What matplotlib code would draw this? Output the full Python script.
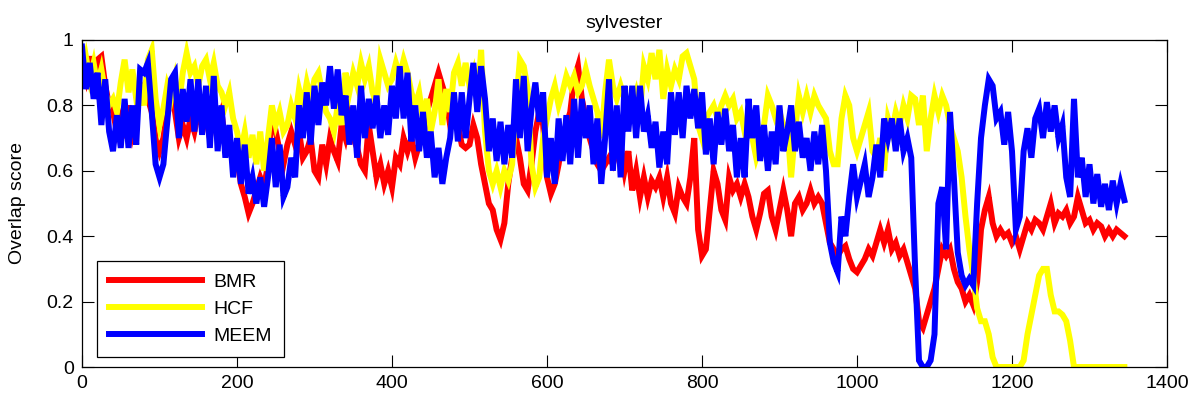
import numpy as np
import matplotlib
matplotlib.use("Agg")
import matplotlib.pyplot as plt

plt.rcParams['font.family'] = ['Liberation Sans', 'DejaVu Sans']

# frame index (sampled every 5 frames)
frames = np.arange(0, 1346, 5)

bmr = [0.92, 0.88, 0.95, 0.88, 0.94, 0.95, 0.86, 0.80, 0.78, 0.72, 0.76, 0.70, 0.80, 0.72, 0.78, 0.84, 0.86, 0.82, 0.78, 0.70, 0.66, 0.70, 0.78, 0.82, 0.78, 0.70, 0.74,
       0.70, 0.76, 0.72, 0.78, 0.74, 0.76, 0.70, 0.80, 0.74, 0.78, 0.68, 0.70, 0.62, 0.64, 0.56, 0.52, 0.47, 0.50, 0.54, 0.58, 0.55, 0.62, 0.78, 0.72, 0.66, 0.62,
       0.68, 0.72, 0.68, 0.72, 0.64, 0.66, 0.70, 0.60, 0.58, 0.68, 0.62, 0.70, 0.66, 0.63, 0.74, 0.70, 0.76, 0.70, 0.67, 0.62, 0.60, 0.74, 0.66, 0.58, 0.62,
       0.56, 0.60, 0.55, 0.64, 0.62, 0.70, 0.66, 0.70, 0.64, 0.68, 0.70, 0.78, 0.82, 0.86, 0.90, 0.86, 0.82, 0.74, 0.78, 0.74, 0.68, 0.67, 0.68, 0.74, 0.70, 0.62,
       0.56, 0.50, 0.48, 0.42, 0.39, 0.44, 0.56, 0.64, 0.70, 0.64, 0.56, 0.54, 0.62, 0.72, 0.78, 0.74, 0.58, 0.53, 0.56, 0.62, 0.70, 0.74, 0.78, 0.88, 0.92, 0.82,
       0.76, 0.70, 0.66, 0.62, 0.60, 0.62, 0.64, 0.62, 0.66, 0.68, 0.60, 0.66, 0.54, 0.60, 0.52, 0.58, 0.52, 0.57, 0.55, 0.58, 0.52, 0.58, 0.50, 0.47, 0.55, 0.52,
       0.50, 0.58, 0.70, 0.42, 0.34, 0.36, 0.48, 0.60, 0.56, 0.48, 0.45, 0.58, 0.54, 0.56, 0.52, 0.56, 0.52, 0.46, 0.42, 0.47, 0.53, 0.54, 0.46, 0.42, 0.48, 0.54,
       0.48, 0.40, 0.50, 0.52, 0.48, 0.50, 0.54, 0.50, 0.52, 0.50, 0.44, 0.38, 0.36, 0.34, 0.36, 0.37, 0.33, 0.30, 0.29, 0.31, 0.33, 0.36, 0.34, 0.38, 0.42, 0.38,
       0.42, 0.36, 0.38, 0.34, 0.36, 0.32, 0.28, 0.24, 0.14, 0.12, 0.16, 0.20, 0.24, 0.30, 0.36, 0.34, 0.36, 0.30, 0.26, 0.24, 0.20, 0.22, 0.19, 0.26, 0.42,
       0.48, 0.52, 0.44, 0.40, 0.42, 0.40, 0.41, 0.38, 0.40, 0.36, 0.40, 0.44, 0.42, 0.45, 0.44, 0.42, 0.46, 0.50, 0.44, 0.47, 0.46, 0.48, 0.44, 0.46, 0.52, 0.48,
       0.44, 0.45, 0.42, 0.44, 0.43, 0.40, 0.42, 0.40, 0.42, 0.41, 0.40]

hcf = [0.90, 0.95, 0.88, 0.93, 0.86, 0.91, 0.84, 0.80, 0.82, 0.78, 0.87, 0.94, 0.84, 0.91, 0.82, 0.86, 0.80, 0.94, 0.97, 0.82, 0.74, 0.79, 0.86, 0.82, 0.88, 0.80, 0.90,
       0.96, 0.90, 0.92, 0.86, 0.92, 0.94, 0.88, 0.93, 0.86, 0.84, 0.80, 0.84, 0.76, 0.72, 0.66, 0.72, 0.64, 0.71, 0.62, 0.72, 0.60, 0.70, 0.80, 0.74, 0.78, 0.72,
       0.74, 0.80, 0.76, 0.85, 0.80, 0.87, 0.82, 0.88, 0.90, 0.84, 0.78, 0.76, 0.72, 0.80, 0.74, 0.90, 0.84, 0.90, 0.86, 0.93, 0.88, 0.92, 0.84, 0.80, 0.94,
       0.90, 0.86, 0.88, 0.93, 0.89, 0.94, 0.90, 0.84, 0.80, 0.84, 0.76, 0.82, 0.72, 0.78, 0.88, 0.74, 0.85, 0.78, 0.90, 0.93, 0.86, 0.93, 0.86, 0.90, 0.80, 0.97,
       0.72, 0.60, 0.56, 0.60, 0.55, 0.60, 0.57, 0.62, 0.80, 0.94, 0.92, 0.85, 0.62, 0.55, 0.58, 0.70, 0.76, 0.82, 0.86, 0.80, 0.84, 0.89, 0.86, 0.89, 0.84, 0.86,
       0.91, 0.86, 0.82, 0.78, 0.70, 0.84, 0.94, 0.86, 0.82, 0.86, 0.82, 0.78, 0.80, 0.84, 0.78, 0.92, 0.88, 0.96, 0.88, 0.97, 0.82, 0.91, 0.86, 0.91, 0.88, 0.95,
       0.96, 0.92, 0.88, 0.74, 0.70, 0.76, 0.78, 0.80, 0.76, 0.80, 0.83, 0.80, 0.82, 0.76, 0.78, 0.72, 0.76, 0.70, 0.64, 0.68, 0.74, 0.83, 0.80, 0.76, 0.78, 0.74,
       0.74, 0.58, 0.72, 0.83, 0.78, 0.83, 0.78, 0.83, 0.80, 0.78, 0.76, 0.66, 0.62, 0.62, 0.76, 0.83, 0.80, 0.70, 0.66, 0.70, 0.74, 0.78, 0.66, 0.64, 0.70, 0.60,
       0.76, 0.72, 0.78, 0.74, 0.80, 0.76, 0.83, 0.82, 0.74, 0.83, 0.66, 0.76, 0.83, 0.78, 0.83, 0.80, 0.74, 0.70, 0.66, 0.58, 0.46, 0.36, 0.28, 0.18, 0.14,
       0.14, 0.10, 0.03, 0.00, 0.00, 0.00, 0.00, 0.00, 0.00, 0.00, 0.02, 0.10, 0.16, 0.22, 0.28, 0.30, 0.30, 0.22, 0.17, 0.17, 0.16, 0.14, 0.08, 0.00, 0.00, 0.00,
       0.00, 0.00, 0.00, 0.00, 0.00, 0.00, 0.00, 0.00, 0.00, 0.00, 0.00]

meem = [0.98, 0.85, 0.93, 0.82, 0.90, 0.74, 0.88, 0.72, 0.66, 0.77, 0.67, 0.82, 0.67, 0.80, 0.68, 0.91, 0.90, 0.93, 0.78, 0.62, 0.58, 0.62, 0.75, 0.88, 0.90, 0.70, 0.85,
        0.75, 0.88, 0.72, 0.88, 0.71, 0.86, 0.67, 0.89, 0.66, 0.80, 0.64, 0.74, 0.58, 0.70, 0.56, 0.68, 0.53, 0.58, 0.50, 0.58, 0.49, 0.58, 0.70, 0.55, 0.68, 0.52,
        0.55, 0.64, 0.58, 0.80, 0.70, 0.84, 0.68, 0.86, 0.74, 0.87, 0.80, 0.92, 0.79, 0.91, 0.77, 0.83, 0.68, 0.80, 0.64, 0.86, 0.70, 0.82, 0.73, 0.83, 0.70,
        0.80, 0.71, 0.86, 0.76, 0.92, 0.76, 0.90, 0.69, 0.80, 0.66, 0.78, 0.64, 0.72, 0.58, 0.67, 0.56, 0.64, 0.70, 0.84, 0.69, 0.84, 0.70, 0.82, 0.93, 0.78, 0.92,
        0.82, 0.66, 0.76, 0.63, 0.75, 0.62, 0.74, 0.64, 0.88, 0.70, 0.89, 0.66, 0.79, 0.87, 0.75, 0.84, 0.58, 0.70, 0.56, 0.76, 0.63, 0.77, 0.62, 0.82, 0.64, 0.82,
        0.70, 0.80, 0.62, 0.76, 0.56, 0.70, 0.88, 0.60, 0.80, 0.58, 0.86, 0.72, 0.86, 0.70, 0.86, 0.72, 0.77, 0.67, 0.75, 0.61, 0.72, 0.62, 0.84, 0.71, 0.84, 0.70,
        0.86, 0.76, 0.85, 0.73, 0.84, 0.65, 0.76, 0.62, 0.78, 0.68, 0.79, 0.66, 0.74, 0.58, 0.70, 0.58, 0.82, 0.70, 0.80, 0.63, 0.74, 0.60, 0.72, 0.62, 0.80, 0.66,
        0.72, 0.80, 0.66, 0.75, 0.64, 0.70, 0.60, 0.72, 0.62, 0.74, 0.60, 0.38, 0.32, 0.29, 0.46, 0.40, 0.52, 0.62, 0.52, 0.57, 0.62, 0.52, 0.58, 0.68, 0.58, 0.76,
        0.70, 0.76, 0.66, 0.76, 0.66, 0.70, 0.64, 0.30, 0.02, 0.00, 0.00, 0.02, 0.10, 0.50, 0.55, 0.36, 0.78, 0.58, 0.35, 0.28, 0.25, 0.27, 0.25, 0.50, 0.70,
        0.80, 0.88, 0.86, 0.76, 0.78, 0.68, 0.78, 0.66, 0.42, 0.46, 0.66, 0.73, 0.64, 0.76, 0.79, 0.70, 0.81, 0.72, 0.80, 0.70, 0.74, 0.58, 0.52, 0.82, 0.58, 0.64,
        0.52, 0.62, 0.50, 0.59, 0.49, 0.56, 0.48, 0.57, 0.50, 0.56, 0.51]

series_names = ['BMR', 'HCF', 'MEEM']
series_colors = ['#ff0000', '#ffff00', '#0000ff']

xticks = [0, 200, 400, 600, 800, 1000, 1200, 1400]
yticks = [0, 0.2, 0.4, 0.6, 0.8, 1]
ytick_labels = ['0', '0.2', '0.4', '0.6', '0.8', '1']

fig = plt.figure(figsize=(11.94, 3.99), dpi=100)
ax = fig.add_axes([82 / 1194, 32 / 399, 1085 / 1194, 327 / 399])

for data, name, color in zip([bmr, hcf, meem], series_names, series_colors):
    ax.plot(frames, data, color=color, lw=4.3, label=name, solid_joinstyle='miter')

ax.set_xlim(0, 1400)
ax.set_ylim(0, 1)
ax.set_xticks(xticks)
ax.set_yticks(yticks)
ax.set_yticklabels(ytick_labels)
ax.tick_params(direction='in', length=8.5, width=0.8, top=True, right=True,
               labelsize=14, pad=6)
for sp in ax.spines.values():
    sp.set_linewidth(0.9)

ax.set_title('sylvester', fontsize=14, pad=9)
ax.set_ylabel('Overlap score', fontsize=14)
ax.yaxis.set_label_coords(-0.052, 0.5)

leg = ax.legend(loc='lower left', bbox_to_anchor=(0.0138, 0.031), fontsize=14,
                handlelength=4.8, handletextpad=0.6, labelspacing=0.5,
                borderpad=0.6, borderaxespad=0, fancybox=False, framealpha=1)
leg.get_frame().set_edgecolor('black')
leg.get_frame().set_linewidth(0.9)

fig.savefig('out.png', dpi=100)
